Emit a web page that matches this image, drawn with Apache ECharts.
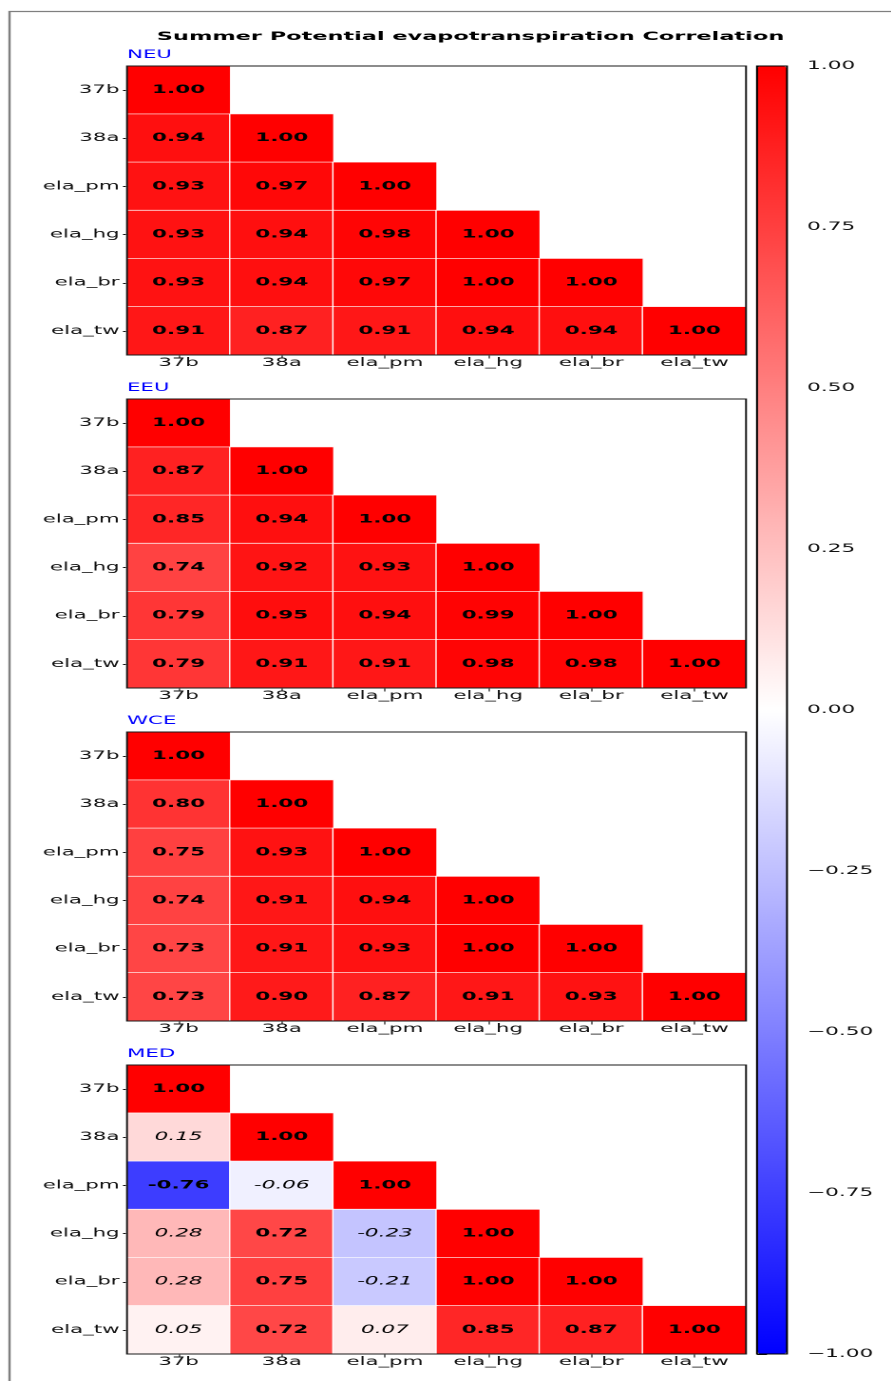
<!DOCTYPE html>
<html>
<head>
<meta charset="utf-8">
<title>Summer Potential evapotranspiration Correlation</title>
<script src="https://cdn.jsdelivr.net/npm/echarts@6/dist/echarts.min.js"></script>
<style>
  html, body { margin: 0; padding: 0; background: #fff; overflow: hidden; }
  #wrap { width: 891px; height: 1381px; overflow: hidden; position: relative; }
  #chart { position: absolute; left: 0; top: 0; height: 1381px; transform-origin: 0 0; }
</style>
</head>
<body>
<div id="wrap"><div id="chart"></div></div>
<script>
// The figure is laid out in a narrow canvas and widened horizontally by S,
// giving the wide lettering and thicker vertical rules of the figure.
const S = 1.9;
const W = 891, H = 1381;
const X = px => px / S;   // page x (px) -> canvas x

// ---- data ----
const variables = ['37b', '38a', 'ela_pm', 'ela_hg', 'ela_br', 'ela_tw'];
const regions = ['NEU', 'EEU', 'WCE', 'MED'];

// lower triangles, row by row (row i has i+1 values: columns 0..i)
const corrNEU = [
  [1.00],
  [0.94, 1.00],
  [0.93, 0.97, 1.00],
  [0.93, 0.94, 0.98, 1.00],
  [0.93, 0.94, 0.97, 1.00, 1.00],
  [0.91, 0.87, 0.91, 0.94, 0.94, 1.00]
];
const corrEEU = [
  [1.00],
  [0.87, 1.00],
  [0.85, 0.94, 1.00],
  [0.74, 0.92, 0.93, 1.00],
  [0.79, 0.95, 0.94, 0.99, 1.00],
  [0.79, 0.91, 0.91, 0.98, 0.98, 1.00]
];
const corrWCE = [
  [1.00],
  [0.80, 1.00],
  [0.75, 0.93, 1.00],
  [0.74, 0.91, 0.94, 1.00],
  [0.73, 0.91, 0.93, 1.00, 1.00],
  [0.73, 0.90, 0.87, 0.91, 0.93, 1.00]
];
const corrMED = [
  [1.00],
  [0.15, 1.00],
  [-0.76, -0.06, 1.00],
  [0.28, 0.72, -0.23, 1.00],
  [0.28, 0.75, -0.21, 1.00, 1.00],
  [0.05, 0.72, 0.07, 0.85, 0.87, 1.00]
];
const matrices = [corrNEU, corrEEU, corrWCE, corrMED];

const colorbarMin = -1, colorbarMax = 1, colorbarStep = 0.25;

// ---- layout (page pixels) ----
const panelTops = [66, 399, 732, 1065];
const panelLeft = 127, panelWidth = 619, panelHeight = 289;
const cbLeft = 757, cbWidth = 30, cbTop = 66, cbHeight = 1288;

const FONT = '"DejaVu Sans", "Liberation Sans", sans-serif';
const INK = '#111';

const chartEl = document.getElementById('chart');
chartEl.style.width = (W / S) + 'px';
chartEl.style.transform = 'scaleX(' + S + ')';

const chart = echarts.init(chartEl, null, { renderer: 'canvas', devicePixelRatio: 2 });

function toCells(m) {
  const out = [];
  m.forEach((row, r) => row.forEach((v, c) => out.push([c, r, v])));
  return out;
}

const grids = [], xAxes = [], yAxes = [], series = [];

panelTops.forEach((top, i) => {
  grids.push({
    left: X(panelLeft), top: top, width: X(panelWidth), height: panelHeight,
    show: true, borderColor: '#1a1a1a', borderWidth: 1, z: 10,
    backgroundColor: 'transparent'
  });
  xAxes.push({
    gridIndex: i, type: 'category', data: variables, position: 'bottom',
    axisLine: { show: false },
    axisTick: { show: true, alignWithLabel: true, length: 3.5, lineStyle: { color: INK, width: 0.6 } },
    axisLabel: { margin: 2.5, fontSize: 11.2, fontFamily: FONT, color: INK },
    splitLine: { show: false }, splitArea: { show: false }
  });
  yAxes.push({
    gridIndex: i, type: 'category', data: variables, inverse: true,
    axisLine: { show: false },
    axisTick: { show: true, alignWithLabel: true, length: X(4), lineStyle: { color: INK, width: 1 } },
    axisLabel: { margin: X(7.5), fontSize: 11.2, fontFamily: FONT, color: INK },
    splitLine: { show: false }, splitArea: { show: false }
  });
  series.push({
    type: 'heatmap', name: regions[i],
    xAxisIndex: i, yAxisIndex: i,
    data: toCells(matrices[i]),
    itemStyle: { borderColor: '#ffffff', borderWidth: 0.7 },
    emphasis: { disabled: true },
    label: {
      show: true,
      formatter: p => {
        const v = p.value[2];
        const t = v.toFixed(2);
        return Math.abs(v) >= 0.5 ? '{b|' + t + '}' : '{i|' + t + '}';
      },
      rich: {
        b: { fontWeight: 'bold', fontSize: 11.3, fontFamily: FONT, color: '#000' },
        i: { fontStyle: 'italic', fontSize: 11.3, fontFamily: FONT, color: '#000' }
      }
    }
  });
});

// colorbar frame and its tick axis
grids.push({
  left: X(cbLeft), top: cbTop, width: X(cbWidth), height: cbHeight,
  show: true, borderColor: '#000', borderWidth: 1, z: 10, backgroundColor: 'transparent'
});
xAxes.push({ gridIndex: 4, type: 'value', show: false, min: 0, max: 1 });
yAxes.push({
  gridIndex: 4, type: 'value', position: 'right',
  min: colorbarMin, max: colorbarMax, interval: colorbarStep,
  axisLine: { show: false },
  axisTick: { show: true, length: X(10), lineStyle: { color: INK, width: 1 } },
  axisLabel: {
    margin: X(20), fontSize: 11.4, fontFamily: FONT, color: INK,
    formatter: v => (v < 0 ? '\u2212' : '') + Math.abs(v).toFixed(2)
  },
  splitLine: { show: false }
});

const option = {
  backgroundColor: '#ffffff',
  animation: false,
  grid: grids,
  xAxis: xAxes,
  yAxis: yAxes,
  visualMap: {
    type: 'continuous', show: true,
    min: colorbarMin, max: colorbarMax,
    seriesIndex: [0, 1, 2, 3],
    inRange: { color: ['#0000ff', '#ffffff', '#ff0000'] },
    orient: 'vertical',
    left: X(cbLeft), top: cbTop,
    itemWidth: X(cbWidth), itemHeight: cbHeight,
    padding: 0, calculable: false, hoverLink: false,
    text: null
  },
  graphic: [
    {
      type: 'rect', silent: true, z: -10,
      shape: { x: X(9.5), y: 11.5, width: 2000, height: 3000 },
      style: { fill: 'transparent', stroke: '#7f7f7f', lineWidth: 1.2 }
    },
    {
      type: 'text', silent: true, x: X(470.5), y: 37,
      style: {
        text: 'Summer Potential evapotranspiration Correlation',
        font: 'bold 11.8px ' + FONT, fill: '#000',
        align: 'center', verticalAlign: 'middle'
      }
    }
  ].concat(regions.map((r, i) => ({
    type: 'text', silent: true, x: X(panelLeft), y: panelTops[i] - 11,
    style: {
      text: r, font: '11.2px ' + FONT, fill: '#0000ff',
      align: 'left', verticalAlign: 'middle'
    }
  }))),
  series: series
};

chart.setOption(option);
</script>
</body>
</html>
